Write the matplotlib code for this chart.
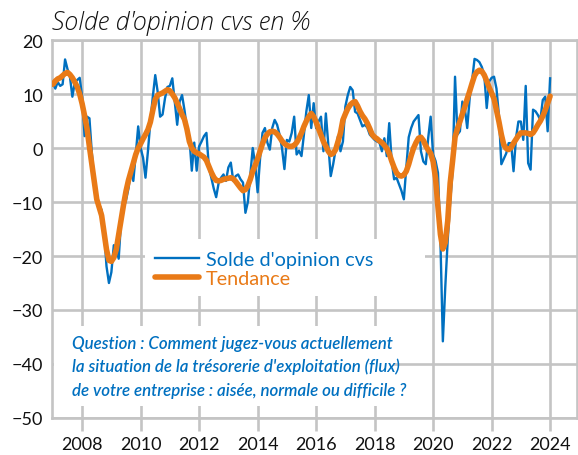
import numpy as np
import matplotlib
matplotlib.use("Agg")
import matplotlib.pyplot as plt
from matplotlib.patches import Rectangle

# ---- data (monthly, Jan 2007 .. Jan 2024) ----
start_year = 2007
solde = [
    # 2007
    12.0, 11.0, 12.2, 11.5, 11.8, 16.4, 14.6, 13.2, 9.5, 12.2, 12.6, 13.0,
    # 2008
    9.5, 2.2, 5.8, 5.5, -1.0, -6.1, -9.7, -10.5, -11.5, -15.3, -21.9, -25.0,
    # 2009
    -23.0, -18.0, -18.5, -20.5, -13.4, -11.0, -9.7, -7.5, -4.3, -6.1, -1.2, 4.0,
    # 2010
    0.0, -1.8, -5.5, -0.6, 4.9, 9.5, 13.5, 10.4, 5.8, 6.2, 9.2, 11.3,
    # 2011
    11.5, 12.9, 8.5, 4.3, 8.6, 9.8, 7.0, 3.7, 2.0, -4.2, 1.0, -4.2,
    # 2012
    0.3, 1.2, 2.2, 2.8, -3.6, -5.5, -7.5, -9.1, -6.5, -5.5, -4.9, -6.1,
    # 2013
    -3.6, -2.7, -6.1, -5.2, -4.9, -5.8, -6.4, -12.0, -10.0, -5.0, 0.0, -3.0,
    # 2014
    -8.2, -2.0, 2.8, 3.7, 1.0, -0.3, 3.7, 5.2, 4.3, 2.5, 0.0, -3.9,
    # 2015
    1.5, 1.2, 2.8, 5.8, -1.2, -0.5, -1.5, 2.5, 6.8, 9.8, 3.7, 8.3,
    # 2016
    3.7, 4.9, 5.8, -0.6, 6.4, 0.6, -5.2, -3.0, -0.3, 2.2, -0.6, 1.2,
    # 2017
    7.7, 9.8, 11.3, 10.7, 6.7, 6.4, 5.2, 4.0, 4.3, 3.8, 2.5, 2.0,
    # 2018
    1.5, 1.2, 1.0, -0.6, 1.8, -1.5, 4.6, -2.4, -5.8, -5.5, -6.7, -7.9,
    # 2019
    -9.5, -3.6, 2.0, 3.7, 4.9, 5.5, 6.1, -0.6, -2.5, -3.0, 1.9, 5.8,
    # 2020
    -1.2, -2.4, -4.6, -17.1, -35.8, -25.7, -17.0, -10.0, -4.3, 13.2, 2.5, 3.1,
    # 2021
    8.6, 7.4, 3.7, 9.2, 12.5, 16.5, 16.3, 15.9, 15.0, 13.5, 7.4, 12.3,
    # 2022
    13.0, 13.2, 11.0, 6.1, -3.0, -2.0, -1.0, 0.9, 0.9, -4.3, 1.8, 4.9,
    # 2023
    4.9, 1.5, 11.5, -2.8, -4.0, 7.1, 6.8, 6.1, 5.2, 8.9, 9.5, 3.1,
    # 2024
    12.9,
]
tendance = [
    # 2007
    11.8, 12.4, 12.8, 13.0, 13.4, 13.8, 14.0, 13.6, 13.0, 12.2, 11.3, 10.0,
    # 2008
    8.2, 6.0, 3.6, 0.2, -3.0, -6.1, -9.5, -11.0, -12.5, -15.6, -18.8, -20.8,
    # 2009
    -21.0, -20.3, -18.8, -16.0, -13.2, -10.5, -8.0, -6.0, -4.4, -2.8, -1.2, 0.0,
    # 2010
    0.8, 1.7, 2.5, 3.4, 4.8, 7.0, 9.0, 9.8, 10.0, 10.2, 10.5, 10.8,
    # 2011
    10.6, 10.0, 9.3, 8.3, 7.3, 6.2, 5.3, 3.5, 1.2, 0.0, -0.6, -0.9,
    # 2012
    -1.1, -1.4, -1.7, -2.3, -3.4, -4.5, -5.4, -6.0, -6.1, -6.0, -5.8, -5.7,
    # 2013
    -5.6, -5.5, -5.7, -6.2, -6.8, -7.4, -7.9, -7.7, -7.0, -5.8, -4.3, -3.2,
    # 2014
    -2.0, -0.6, 0.8, 1.9, 2.6, 3.0, 3.1, 3.0, 2.6, 2.0, 1.3, 0.8,
    # 2015
    0.5, 0.3, 0.3, 0.5, 1.0, 1.8, 2.8, 4.0, 5.0, 5.8, 6.4, 5.8,
    # 2016
    4.8, 3.6, 2.4, 1.2, 0.3, -0.6, -1.2, -1.0, -0.3, 1.2, 2.8, 5.2,
    # 2017
    6.3, 7.3, 8.0, 8.4, 8.6, 7.8, 6.8, 6.0, 5.4, 4.6, 3.6, 2.5,
    # 2018
    2.0, 1.7, 1.3, 1.0, 0.5, -0.1, -1.0, -2.4, -3.6, -4.6, -5.1, -5.2,
    # 2019
    -5.0, -4.3, -3.0, -1.4, 0.0, 1.0, 1.8, 2.0, 1.4, 0.4, -0.4, -1.0,
    # 2020
    -2.5, -5.6, -11.0, -16.0, -18.7, -17.5, -13.5, -6.5, -2.4, 2.0, 3.6, 4.9,
    # 2021
    6.3, 7.6, 9.1, 10.5, 12.0, 13.4, 14.1, 14.4, 14.2, 13.5, 12.4, 11.2,
    # 2022
    10.2, 9.1, 7.0, 4.9, 2.5, 0.6, -0.1, -0.3, 0.1, 0.9, 1.6, 2.3,
    # 2023
    2.8, 2.8, 2.8, 2.7, 2.5, 2.8, 3.5, 4.3, 5.0, 5.9, 7.0, 8.3,
    # 2024
    9.6,
]
year_ticks = [2008, 2010, 2012, 2014, 2016, 2018, 2020, 2022, 2024]
y_ticks = [20, 10, 0, -10, -20, -30, -40, -50]
title = "Solde d'opinion cvs en %"
series_labels = ["Solde d'opinion cvs", "Tendance"]
question_lines = [
    "Question : Comment jugez-vous actuellement",
    "la situation de la trésorerie d'exploitation (flux)",
    "de votre entreprise : aisée, normale ou difficile ?",
]

# ---- style ----
BLUE = "#0070C0"
ORANGE = "#E97A17"
GRID = "#C4C4C4"
plt.rcParams["font.family"] = ["Lato", "DejaVu Sans"]

x = start_year + np.arange(len(solde)) / 12.0
xt = start_year + np.arange(len(tendance)) / 12.0

fig = plt.figure(figsize=(5.78, 4.56), dpi=100)
ax = fig.add_axes([52 / 578, 1 - 419 / 456, 525 / 578, 378 / 456])

ax.set_xlim(2006.97, 2024.92)
ax.set_ylim(-50, 20)
ax.set_xticks(year_ticks)
ax.set_xticklabels([str(y) for y in year_ticks])
ax.set_yticks(y_ticks)
ax.set_axisbelow(True)
ax.grid(True, color=GRID, linewidth=1.9)
for s in ax.spines.values():
    s.set_color(GRID)
    s.set_linewidth(1.9)
ax.tick_params(axis="x", direction="out", length=9.5, width=1.9, color=GRID,
               pad=3.5, labelsize=13, labelcolor="#111111")
ax.tick_params(axis="y", length=0, pad=6.5, labelsize=13, labelcolor="#111111")

# white boxes hiding the grid behind the legend and the question
ax.add_patch(Rectangle((0.177, 0.323), 0.533, 0.151, transform=ax.transAxes,
                       facecolor="white", edgecolor="none", zorder=1))
ax.add_patch(Rectangle((0.004, 0.032), 0.646, 0.211, transform=ax.transAxes,
                       facecolor="white", edgecolor="none", zorder=1))

l1, = ax.plot(x, solde, color=BLUE, linewidth=1.7, zorder=3, label=series_labels[0])
l2, = ax.plot(xt, tendance, color=ORANGE, linewidth=4.0, zorder=4,
              solid_capstyle="round", solid_joinstyle="round", label=series_labels[1])

leg = ax.legend(handles=[l1, l2], loc="upper left", bbox_to_anchor=(0.196, 0.443),
                frameon=False, fontsize=14.3, handlelength=2.2, handletextpad=0.35,
                labelspacing=0.1, borderpad=0, borderaxespad=0)
leg.get_texts()[0].set_color(BLUE)
leg.get_texts()[1].set_color(ORANGE)

for line, yb in zip(question_lines, [0.185, 0.124, 0.061]):
    ax.text(0.038, yb, line, transform=ax.transAxes, ha="left", va="baseline",
            fontsize=12.2, style="italic", weight="semibold", color=BLUE, zorder=5)

fig.text(52 / 578, 1 - 30 / 456, title, ha="left", va="baseline",
         fontsize=18, style="italic", weight="light", color="#111111",
         family=["Open Sans", "DejaVu Sans"])

fig.savefig("out.png", dpi=100)
